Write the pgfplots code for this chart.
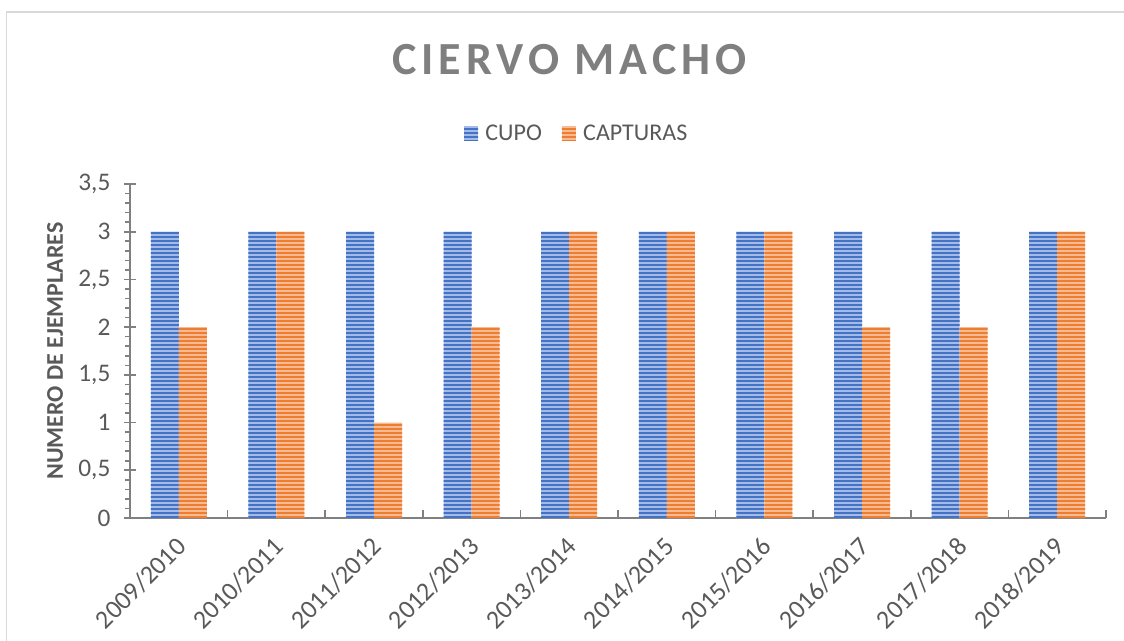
\documentclass[border=0pt]{standalone}
\usepackage{fontspec}
\setmainfont{Carlito}
\usepackage{pgfplots}
\pgfplotsset{compat=1.18}
\usetikzlibrary{patterns.meta}
\definecolor{cupoD}{HTML}{4472C4}
\definecolor{cupoL}{HTML}{A4BBE8}
\definecolor{capD}{HTML}{ED7D31}
\definecolor{capL}{HTML}{F7BB93}
\definecolor{txt}{HTML}{595959}
\definecolor{ttl}{HTML}{7F7F7F}
\definecolor{axl}{HTML}{808080}
\definecolor{frm}{HTML}{D9D9D9}
\pgfplotsset{sqlegend/.style={legend image code/.code={\fill[##1] (0pt,-5.25pt) rectangle (10.5pt,5.25pt); \path (14pt,0pt);}}}
\begin{document}
\begin{tikzpicture}
\useasboundingbox (0pt,0pt) rectangle (843pt,-480.75pt);
\draw[frm, line width=1.2pt] (5pt,-480.75pt) -- (5pt,-8.8pt) -- (843pt,-8.8pt);
\begin{axis}[
  at={(97.5pt,-388.5pt)}, anchor=south west,
  scale only axis, width=732pt, height=250.5pt,
  xmin=-0.5, xmax=9.5, ymin=0, ymax=3.5,
  enlargelimits=false,
  ybar=0pt, bar width=21pt,
  axis lines=left,
  x axis line style={-, line width=1.9pt, color=axl},
  y axis line style={-, line width=1.4pt, color=axl},
  tick style={color=axl, line width=1.2pt},
  tick align=outside, major tick length=0pt, minor tick length=3.75pt,
  xtick={-0.5,0.5,...,9.5},
  x tick label as interval,
  xticklabels={2009/2010,2010/2011,2011/2012,2012/2013,2013/2014,2014/2015,2015/2016,2016/2017,2017/2018,2018/2019},
  xticklabel style={font=\fontsize{19.5}{22}\selectfont, text=txt, xshift=-3pt, yshift=-13pt, rotate=45, anchor=north east, inner sep=0pt},
  extra x ticks={-0.5,0.5,...,9.5},
  extra x tick labels={},
  extra x tick style={tick align=inside, major tick length=6pt},
  ytick={0,0.5,...,3.5},
  minor y tick num=4,
  yticklabels={0,{0,5},1,{1,5},2,{2,5},3,{3,5}},
  yticklabel style={font=\fontsize{19}{22}\selectfont, text=txt, anchor=east, inner sep=0pt, xshift=-14.5pt},
  extra y ticks={0,0.5,...,3.5},
  extra y tick labels={},
  extra y tick style={tick align=center, major tick length=9pt},
  title={CIERVO MACHO},
  title style={at={(axis description cs:0.4503,1.348)}, anchor=center, font=\fontsize{34.5}{40}\selectfont\bfseries\addfontfeatures{LetterSpace=11}, text=ttl},
  ylabel={NUMERO DE EJEMPLARES},
  every axis y label/.style={at={(axis description cs:-0.0768,0.5)}, rotate=90, anchor=center, font=\fontsize{18}{21}\selectfont\bfseries, text=txt},
  legend columns=2,
  legend cell align=left,
  legend style={at={(axis description cs:0.458,1.152)}, anchor=center, draw=none, fill=none, font=\fontsize{18}{20}\selectfont, text=txt, /tikz/every even column/.append style={column sep=13pt}},
]
\addplot[draw=none, fill=cupoL, postaction={pattern={Lines[angle=0,distance=3pt,line width=1.5pt]}, pattern color=cupoD}, sqlegend]
  coordinates {(0,3)(1,3)(2,3)(3,3)(4,3)(5,3)(6,3)(7,3)(8,3)(9,3)};
\addlegendentry{CUPO}
\addplot[draw=none, fill=capL, postaction={pattern={Lines[angle=0,distance=3pt,line width=1.5pt]}, pattern color=capD}, sqlegend]
  coordinates {(0,2)(1,3)(2,1)(3,2)(4,3)(5,3)(6,3)(7,2)(8,2)(9,3)};
\addlegendentry{CAPTURAS}
\end{axis}
\end{tikzpicture}
\end{document}
